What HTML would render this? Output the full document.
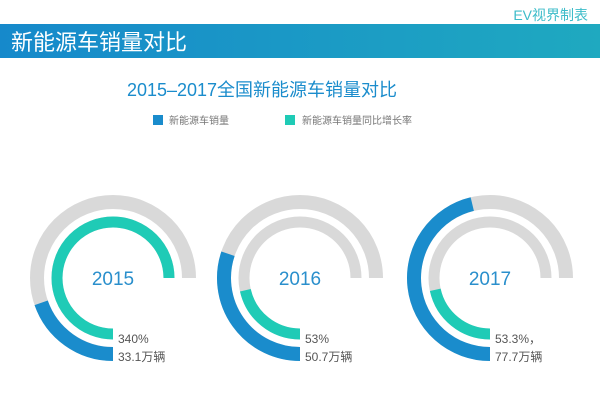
<!DOCTYPE html>
<html><head><meta charset="utf-8">
<style>
body{margin:0;width:600px;height:406px;background:#fff;overflow:hidden;font-family:"Liberation Sans","Noto Sans CJK SC",sans-serif;}
</style></head>
<body>
<svg id="c" width="600" height="406" xmlns="http://www.w3.org/2000/svg">
<defs><linearGradient id="bg" x1="0" x2="1"><stop offset="0" stop-color="#1689cb"/><stop offset="1" stop-color="#1fa9c0"/></linearGradient></defs>
<text x="588" y="20" text-anchor="end" font-size="14" fill="#3cbcc9" font-family="Liberation Sans,Noto Sans CJK SC,sans-serif">EV视界制表</text>
<rect x="0" y="24" width="600" height="34" fill="url(#bg)"/>
<text x="11" y="50" font-size="22" fill="#fff" font-family="Liberation Sans,Noto Sans CJK SC,sans-serif">新能源车销量对比</text>
<text x="262" y="96" text-anchor="middle" font-size="18" fill="#1a8ccc" font-family="Liberation Sans,Noto Sans CJK SC,sans-serif">2015–2017全国新能源车销量对比</text>
<rect x="153" y="115" width="10" height="10" fill="#1a8ccc"/>
<text x="169" y="124" font-size="10" fill="#777" font-family="Liberation Sans,Noto Sans CJK SC,sans-serif">新能源车销量</text>
<rect x="285" y="115" width="10" height="10" fill="#1fcbb6"/>
<text x="302" y="124" font-size="10" fill="#777" font-family="Liberation Sans,Noto Sans CJK SC,sans-serif">新能源车销量同比增长率</text>
<g id="rings"></g>
</svg>
<script>
const years = ['2015','2016','2017'];
const sales = [33.1, 50.7, 77.7];
const growth = [340, 53, 53.3];
const growthLabels = ['340%','53%','53.3%，'];
const salesLabels = ['33.1万辆','50.7万辆','77.7万辆'];

const NS='http://www.w3.org/2000/svg';
const g=document.getElementById('rings');
const centers=[113,300,490], cy=278;
const salesMax=126, growthMax=185, SPAN=270;
function arcPath(cx,cy,r,deg){
  const a0=Math.PI/2, a1=a0+deg*Math.PI/180;
  const x0=cx+r*Math.cos(a0), y0=cy+r*Math.sin(a0);
  const x1=cx+r*Math.cos(a1), y1=cy+r*Math.sin(a1);
  return `M${x0} ${y0} A${r} ${r} 0 ${deg>180?1:0} 1 ${x1} ${y1}`;
}
function arc(cx,r,w,deg,color,name){
  const p=document.createElementNS(NS,'path');
  p.setAttribute('d',arcPath(cx,cy,r,deg));
  p.setAttribute('fill','none');p.setAttribute('stroke',color);p.setAttribute('stroke-width',w);
  
  
  g.appendChild(p);
}
function txt(x,y,s,size,color,anchor,name){
  const t=document.createElementNS(NS,'text');
  t.setAttribute('x',x);t.setAttribute('y',y);t.setAttribute('font-size',size);t.setAttribute('fill',color);
  t.setAttribute('text-anchor',anchor);
  t.setAttribute('font-family','Liberation Sans, Noto Sans CJK SC, sans-serif');
  t.textContent=s;
  
  
  g.appendChild(t);
}
years.forEach((y,i)=>{
  const cx=centers[i];
  arc(cx,76,14,SPAN,'#d9d9d9','sales-track-'+y);
  arc(cx,56,11,SPAN,'#d9d9d9','growth-track-'+y);
  arc(cx,76,14,Math.min(SPAN,sales[i]/salesMax*SPAN),'#1a8ccc','sales-arc-'+y);
  arc(cx,56,11,Math.min(SPAN,growth[i]/growthMax*SPAN),'#1fcbb6','growth-arc-'+y);
  txt(cx,285,y,19,'#2a8fcc','middle','year-label-'+y);
  txt(cx+5,343,growthLabels[i],12,'#555','start','growth-value-'+y);
  txt(cx+5,361,salesLabels[i],12,'#555','start','sales-value-'+y);
});
</script>
</body></html>
